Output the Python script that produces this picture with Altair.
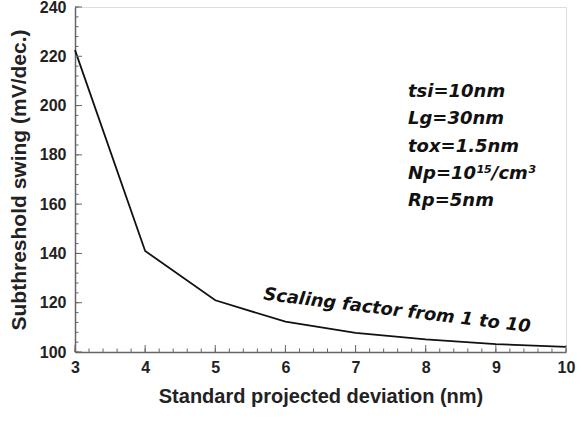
import altair as alt
import pandas as pd

# Subthreshold swing vs. standard projected deviation
deviation = [3, 4, 5, 6, 7, 8, 9, 10]
swing = [222.5, 141, 121, 112.3, 107.8, 105.1, 103.2, 102.1]

x_major = [3, 4, 5, 6, 7, 8, 9, 10]
y_major = [100, 120, 140, 160, 180, 200, 220, 240]
x_minor = [round(3 + 0.2 * i, 2) for i in range(36)]
y_minor = [100 + 4 * i for i in range(36)]

params = ["tsi=10nm", "Lg=30nm", "tox=1.5nm", "Np=10¹⁵/cm³", "Rp=5nm"]

W, H = 491, 345
FONT = "Liberation Sans"

xs = alt.Scale(domain=[3, 10], nice=False, zero=False)
ys = alt.Scale(domain=[100, 240], nice=False, zero=False)

x_axis = alt.Axis(values=x_major, format="d", ticks=False, grid=False,
                  labelFlush=False, labelOverlap=False,
                  labelPadding=7, labelFontSize=16, labelFont=FONT,
                  labelFontWeight="bold", labelColor="#222",
                  titleFont=FONT, titleFontSize=20, titleFontWeight="bold",
                  titleColor="#222", titlePadding=11,
                  domainColor="#666", domainWidth=1.5)
y_axis = alt.Axis(values=y_major, format="d", ticks=False, grid=False,
                  labelFlush=False, labelOverlap=False,
                  labelPadding=9, labelFontSize=16, labelFont=FONT,
                  labelFontWeight="bold", labelColor="#222",
                  titleFont=FONT, titleFontSize=21, titleFontWeight="bold",
                  titleColor="#222", titlePadding=10,
                  domainColor="#666", domainWidth=1.5)
X_TITLE = "Standard projected deviation (nm)"
Y_TITLE = "Subthreshold swing (mV/dec.)"

df = pd.DataFrame({"dev": deviation, "ss": swing})

line = alt.Chart(df).mark_line(color="#111111", strokeWidth=1.8).encode(
    x=alt.X("dev:Q", scale=xs, title=X_TITLE, axis=x_axis),
    y=alt.Y("ss:Q", scale=ys, title=Y_TITLE, axis=y_axis),
)

# inward tick marks along the bottom and left edges
def xticks(vals, length):
    return alt.Chart(pd.DataFrame({"v": vals})).mark_rule(color="#666", strokeWidth=1).encode(
        x=alt.X("v:Q", scale=xs, title=X_TITLE, axis=x_axis),
        y=alt.value(H), y2=alt.value(H - length))

def yticks(vals, length):
    return alt.Chart(pd.DataFrame({"v": vals})).mark_rule(color="#666", strokeWidth=1).encode(
        y=alt.Y("v:Q", scale=ys, title=Y_TITLE, axis=y_axis),
        x=alt.value(0), x2=alt.value(length))

param_text = alt.Chart(pd.DataFrame({"t": ["\n".join(params)]})).mark_text(
    font="DejaVu Sans", fontSize=18, fontWeight="bold", fontStyle="italic",
    align="left", baseline="top", lineBreak="\n", lineHeight=27.3, color="#111"
).encode(text="t:N", x=alt.value(333), y=alt.value(76))

scaling = alt.Chart(pd.DataFrame({"t": ["Scaling factor from 1 to 10"]})).mark_text(
    font="DejaVu Sans", fontSize=17.8, fontWeight="bold", fontStyle="italic",
    align="center", baseline="middle", angle=7, color="#111"
).encode(text="t:N", x=alt.value(322), y=alt.value(304))

chart = alt.layer(
    line,
    xticks(x_minor, 3.5), xticks(x_major, 7),
    yticks(y_minor, 3.5), yticks(y_major, 7),
    param_text, scaling,
).properties(
    width=W, height=H,
    padding={"left": 75, "top": 7, "right": 16, "bottom": 72},
    autosize=alt.AutoSizeParams(type="none"),
).configure_view(stroke="#666", strokeWidth=1.5).configure(background="white")

chart.save("out.html", embed_options={"renderer": "svg", "actions": False})
